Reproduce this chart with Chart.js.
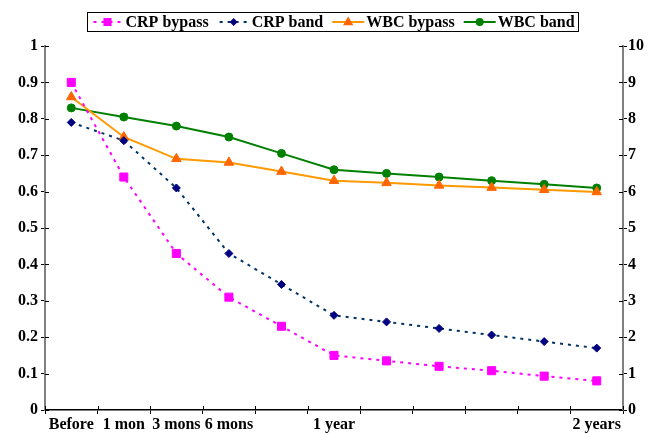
<!DOCTYPE html>
<html><head><meta charset="utf-8">
<script src="https://cdn.jsdelivr.net/npm/chart.js@4/dist/chart.umd.min.js"></script>
<style>html,body{margin:0;padding:0;background:#fff}canvas{display:block}</style>
</head><body>
<canvas id="c" width="664" height="433"></canvas>
<script>
const categories = ["Before", "1 mon", "3 mons", "6 mons", "", "1 year", "", "", "", "", "2 years"];
const crpBypass = [0.90, 0.64, 0.43, 0.31, 0.23, 0.15, 0.135, 0.12, 0.108, 0.093, 0.08];
const crpBand   = [0.79, 0.74, 0.61, 0.43, 0.345, 0.26, 0.242, 0.224, 0.206, 0.188, 0.17];
const wbcBypass = [8.6, 7.5, 6.9, 6.8, 6.55, 6.3, 6.24, 6.17, 6.11, 6.05, 5.99];
const wbcBand   = [8.3, 8.05, 7.8, 7.5, 7.05, 6.6, 6.5, 6.4, 6.3, 6.2, 6.1];
const seriesNames = ["CRP bypass", "CRP band", "WBC bypass", "WBC band"];

const FONT = "'Liberation Serif','Times New Roman',serif";

function drawMarker(ctx, style, x, y, r, fill, stroke) {
  ctx.save();
  ctx.fillStyle = fill; ctx.strokeStyle = stroke; ctx.lineWidth = 1;
  ctx.beginPath();
  if (style === 'rect') { const s = r * Math.SQRT1_2; ctx.rect(x - s, y - s, 2*s, 2*s); }
  else if (style === 'rectRot') { ctx.moveTo(x, y - r); ctx.lineTo(x + r, y); ctx.lineTo(x, y + r); ctx.lineTo(x - r, y); ctx.closePath(); }
  else if (style === 'triangle') { ctx.moveTo(x, y - r); ctx.lineTo(x + r*0.95, y + r*0.6); ctx.lineTo(x - r*0.95, y + r*0.6); ctx.closePath(); }
  else { ctx.arc(x, y, r, 0, Math.PI*2); }
  ctx.fill();
  ctx.restore();
}

const legendPlugin = {
  id: 'boxLegend',
  afterDraw(chart) {
    const ctx = chart.ctx;
    ctx.save();
    ctx.font = "bold 16px " + FONT;
    const sampleW = 32, gapAfterSample = 2, gapItem = 9, padX = 4;
    const items = chart.data.datasets.map(ds => ({ds, w: ctx.measureText(ds.label).width}));
    let total = padX*2;
    items.forEach((it, i) => { total += sampleW + gapAfterSample + it.w + (i < items.length-1 ? gapItem : 0); });
    const cx = 333, top = 12, h = 19;
    let x = Math.round(cx - total/2) + 0.5;
    ctx.strokeStyle = '#000'; ctx.lineWidth = 1;
    ctx.strokeRect(x, top + 0.5, Math.round(total), h);
    const cy = top + h/2 + 0.5;
    let px = x + padX;
    items.forEach((it, i) => {
      const ds = it.ds;
      const dashed = (ds.borderDash || []).length > 0;
      ctx.save();
      ctx.strokeStyle = ds.borderColor; ctx.lineWidth = ds.borderWidth;
      ctx.setLineDash(ds.borderDash || []);
      ctx.beginPath();
      ctx.moveTo(px + (dashed ? 2 : 0), cy); ctx.lineTo(px + sampleW, cy); ctx.stroke();
      ctx.restore();
      drawMarker(ctx, ds.pointStyle, px + sampleW/2, cy, ds.pointRadius, ds.pointBackgroundColor, ds.pointBorderColor);
      px += sampleW + gapAfterSample;
      ctx.fillStyle = '#000'; ctx.textBaseline = 'middle'; ctx.textAlign = 'left';
      ctx.fillText(ds.label, px, cy + 1);
      px += it.w + gapItem;
    });
    ctx.restore();
  }
};

const crossTicks = {
  id: 'crossTicks',
  afterDatasetsDraw(chart) {
    const ctx = chart.ctx, a = chart.chartArea;
    ctx.save();
    ctx.strokeStyle = '#000'; ctx.lineWidth = 1;
    const xs = chart.scales.x;
    for (let i = 0; i <= categories.length; i++) {
      const px = Math.round(xs.getPixelForValue(i - 0.5)) + 0.5;
      ctx.beginPath(); ctx.moveTo(px, a.bottom); ctx.lineTo(px, a.bottom - 4); ctx.stroke();
    }
    const yl = chart.scales.y, yr = chart.scales.y2;
    yl.ticks.forEach(t => { const py = Math.round(yl.getPixelForValue(t.value)) + 0.5; ctx.beginPath(); ctx.moveTo(a.left, py); ctx.lineTo(a.left + 4, py); ctx.stroke(); });
    yr.ticks.forEach(t => { const py = Math.round(yr.getPixelForValue(t.value)) + 0.5; ctx.beginPath(); ctx.moveTo(a.right, py); ctx.lineTo(a.right - 4, py); ctx.stroke(); });
    ctx.restore();
  }
};

function ds(label, data, color, markColor, style, radius, dash, axis) {
  return {
    label, data, yAxisID: axis,
    borderColor: color, borderWidth: 2, borderDash: dash,
    pointStyle: style, pointRadius: radius, pointHoverRadius: radius,
    pointBackgroundColor: markColor, pointBorderColor: markColor, pointBorderWidth: 1,
    fill: false, tension: 0
  };
}

new Chart(document.getElementById('c'), {
  type: 'line',
  data: {
    labels: categories,
    datasets: [
      ds(seriesNames[0], crpBypass, '#FF00FF', '#FF00FF', 'rect', 5.7, [3, 5], 'y'),
      ds(seriesNames[1], crpBand, '#003366', '#000080', 'rectRot', 4, [3, 5], 'y'),
      ds(seriesNames[2], wbcBypass, '#FF9900', '#FF6600', 'triangle', 5.5, [], 'y2'),
      ds(seriesNames[3], wbcBand, '#008000', '#008000', 'circle', 4, [], 'y2')
    ]
  },
  options: {
    responsive: false, animation: false,
    layout: { padding: { top: 46, left: 0, right: 0, bottom: 0 } },
    plugins: { legend: { display: false }, tooltip: { enabled: false } },
    scales: {
      x: {
        type: 'category', offset: true,
        grid: { offset: true, drawOnChartArea: false, drawTicks: true, tickLength: 4, color: '#000', lineWidth: 1 },
        border: { color: '#000', width: 1.5 },
        ticks: { autoSkip: false, maxRotation: 0, minRotation: 0, padding: 1, color: '#000', font: { family: FONT, size: 16, weight: 'bold' } },
        afterFit(s) { s.height = 23; }
      },
      y: {
        position: 'left', min: 0, max: 1,
        grid: { drawOnChartArea: false, tickLength: 4, color: '#000' },
        border: { color: '#808080', width: 2 },
        ticks: { stepSize: 0.1, padding: 3, color: '#000', font: { family: FONT, size: 16, weight: 'bold' },
          callback: v => String(Math.round(v * 10) / 10) },
        afterFit(s) { s.width = 45; }
      },
      y2: {
        position: 'right', min: 0, max: 10,
        grid: { drawOnChartArea: false, tickLength: 4, color: '#000' },
        border: { color: '#808080', width: 2 },
        ticks: { stepSize: 1, padding: 1, color: '#000', font: { family: FONT, size: 16, weight: 'bold' } },
        afterFit(s) { s.width = 41; }
      }
    }
  },
  plugins: [crossTicks, legendPlugin]
});
</script>
</body></html>
